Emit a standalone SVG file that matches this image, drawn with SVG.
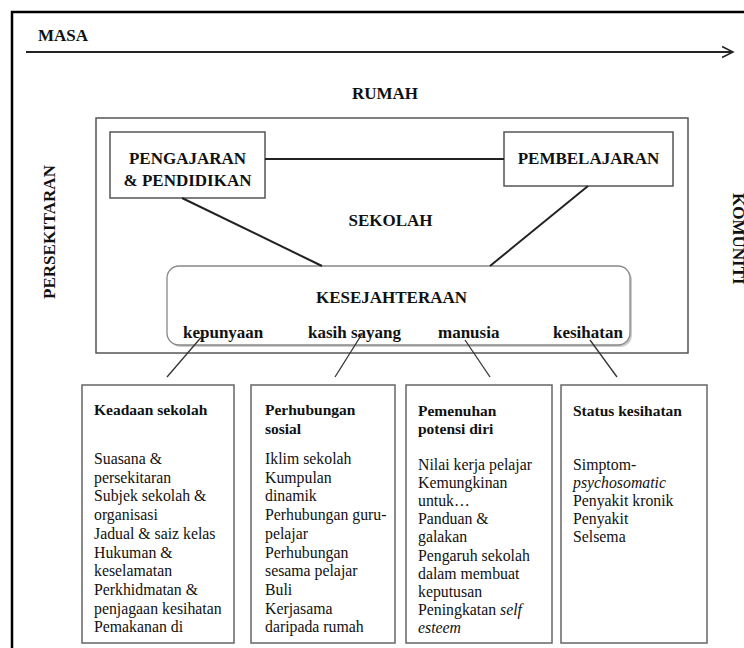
<svg xmlns="http://www.w3.org/2000/svg" width="744" height="648" viewBox="0 0 744 648">
<defs>
<style>
text{font-family:"Liberation Serif","Times New Roman",serif;fill:#111}
.h{font-weight:bold;font-size:17px}
.lab{font-weight:bold;font-size:17px}
.t{font-weight:bold;font-size:15.5px}
.b{font-size:15.8px}
.box{fill:#fff;stroke:#555;stroke-width:1.5}
.bbox{fill:#fff;stroke:#666;stroke-width:1.5}
.con{stroke:#222;stroke-width:2;fill:none}
.thin{stroke:#333;stroke-width:1.3;fill:none}
</style>
</defs>
<rect width="744" height="648" fill="#fff"/>
<path d="M12 660 V12 H760" fill="none" stroke="#000" stroke-width="2.5"/>

<g id="masa">
<text class="h" x="38" y="41">MASA</text>
<line x1="26" y1="52" x2="733" y2="52" stroke="#222" stroke-width="1.8"/>
<polyline points="722,46.5 733,52 722,57.5" fill="none" stroke="#222" stroke-width="1.5"/>
</g>

<g id="rumah"><text class="h" x="385" y="99" text-anchor="middle">RUMAH</text></g>
<g id="persekitaran"><text class="h" transform="translate(55,232) rotate(-90)" text-anchor="middle">PERSEKITARAN</text></g>
<g id="komuniti"><text class="h" transform="translate(733,193) rotate(90)">KOMUNITI</text></g>

<g id="sekolah">
<rect class="box" x="96" y="118" width="592" height="235"/>
<text class="h" x="390.5" y="226" text-anchor="middle">SEKOLAH</text>
</g>

<g id="pengajaran">
<rect class="box" x="110" y="132" width="155" height="66"/>
<text class="h" x="187.5" y="164" text-anchor="middle">PENGAJARAN</text>
<text class="h" x="187.5" y="186" text-anchor="middle">&amp; PENDIDIKAN</text>
</g>

<g id="pembelajaran">
<rect class="box" x="504" y="132" width="169" height="54"/>
<text class="h" x="588.5" y="164" text-anchor="middle">PEMBELAJARAN</text>
</g>

<g id="kesejahteraan">
<rect x="169" y="268" width="463" height="79" rx="12" fill="#ccc"/>
<rect x="167" y="266" width="463" height="79" rx="12" fill="#fff" stroke="#888" stroke-width="1.3"/>
<text class="h" x="391.5" y="303" text-anchor="middle">KESEJAHTERAAN</text>
<text class="lab" x="183" y="338">kepunyaan</text>
<text class="lab" x="308" y="338">kasih sayang</text>
<text class="lab" x="438" y="338">manusia</text>
<text class="lab" x="553" y="338">kesihatan</text>
</g>

<g id="connectors">
<line class="con" x1="265" y1="159" x2="504" y2="159"/>
<line class="con" x1="182" y1="198" x2="322" y2="266"/>
<line class="con" x1="588" y1="186" x2="490" y2="266"/>
<line class="thin" x1="204" y1="334" x2="167" y2="377"/>
<line class="thin" x1="362" y1="334" x2="335" y2="377"/>
<line class="thin" x1="465" y1="340" x2="490" y2="377"/>
<line class="thin" x1="590" y1="340" x2="617" y2="377"/>
</g>

<g id="keadaan">
<rect class="bbox" x="82" y="385" width="152" height="258"/>
<text class="t" x="94" y="415">Keadaan sekolah</text>
<text class="b" x="94" y="464">Suasana &amp;</text>
<text class="b" x="94" y="482.7">persekitaran</text>
<text class="b" x="94" y="501.4">Subjek sekolah &amp;</text>
<text class="b" x="94" y="520.1">organisasi</text>
<text class="b" x="94" y="538.8">Jadual &amp; saiz kelas</text>
<text class="b" x="94" y="557.5">Hukuman &amp;</text>
<text class="b" x="94" y="576.2">keselamatan</text>
<text class="b" x="94" y="594.9">Perkhidmatan &amp;</text>
<text class="b" x="94" y="613.6">penjagaan kesihatan</text>
<text class="b" x="94" y="632.3">Pemakanan di</text>
</g>

<g id="perhubungan">
<rect class="bbox" x="251" y="385" width="144" height="258"/>
<text class="t" x="265" y="415">Perhubungan</text>
<text class="t" x="265" y="434">sosial</text>
<text class="b" x="265" y="464">Iklim sekolah</text>
<text class="b" x="265" y="482.7">Kumpulan</text>
<text class="b" x="265" y="501.4">dinamik</text>
<text class="b" x="265" y="520.1">Perhubungan guru-</text>
<text class="b" x="265" y="538.8">pelajar</text>
<text class="b" x="265" y="557.5">Perhubungan</text>
<text class="b" x="265" y="576.2">sesama pelajar</text>
<text class="b" x="265" y="594.9">Buli</text>
<text class="b" x="265" y="613.6">Kerjasama</text>
<text class="b" x="265" y="632.3">daripada rumah</text>
</g>

<g id="pemenuhan">
<rect class="bbox" x="406" y="385" width="146" height="258"/>
<text class="t" x="418" y="416">Pemenuhan</text>
<text class="t" x="418" y="434">potensi diri</text>
<text class="b" x="418" y="470">Nilai kerja pelajar</text>
<text class="b" x="418" y="488.1">Kemungkinan</text>
<text class="b" x="418" y="506.2">untuk…</text>
<text class="b" x="418" y="524.3">Panduan &amp;</text>
<text class="b" x="418" y="542.4">galakan</text>
<text class="b" x="418" y="560.5">Pengaruh sekolah</text>
<text class="b" x="418" y="578.6">dalam membuat</text>
<text class="b" x="418" y="596.7">keputusan</text>
<text class="b" x="418" y="614.8">Peningkatan <tspan font-style="italic">self</tspan></text>
<text class="b" x="418" y="632.9" font-style="italic">esteem</text>
</g>

<g id="status">
<rect class="bbox" x="561" y="385" width="146" height="258"/>
<text class="t" x="573" y="416">Status kesihatan</text>
<text class="b" x="573" y="470">Simptom-</text>
<text class="b" x="573" y="488.1" font-style="italic">psychosomatic</text>
<text class="b" x="573" y="506.2">Penyakit kronik</text>
<text class="b" x="573" y="524.3">Penyakit</text>
<text class="b" x="573" y="542.4">Selsema</text>
</g>
</svg>
